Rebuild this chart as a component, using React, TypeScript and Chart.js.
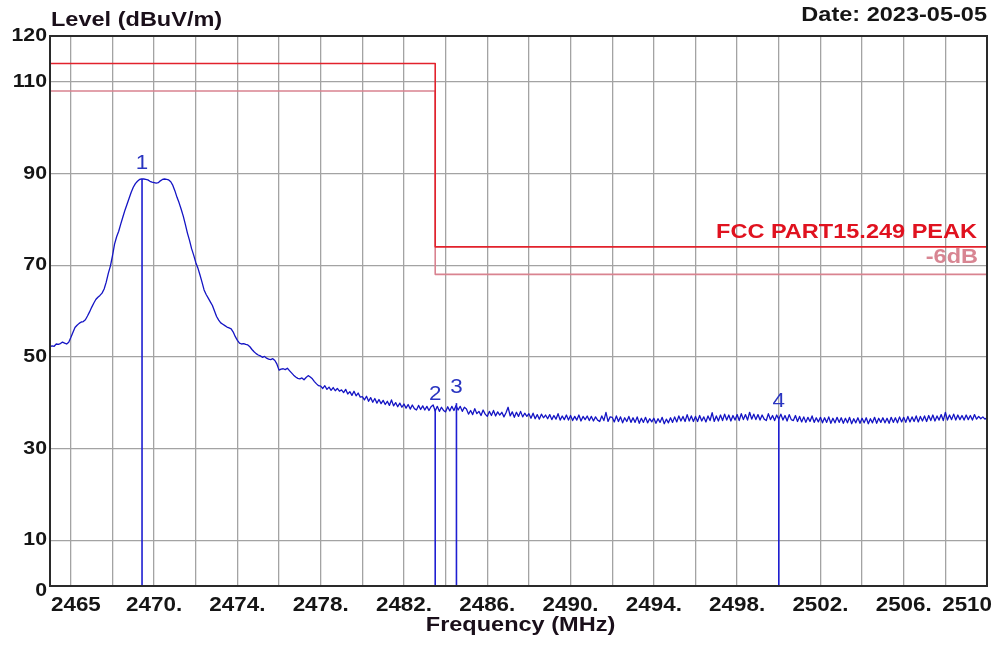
import { useEffect, useRef } from "react";
import { Chart, registerables } from "chart.js";

Chart.register(...registerables);

// ---- Sweep data (dBuV/m), 2465.0 .. 2510.0 MHz, 0.1 MHz step ----
const FREQ_START = 2465;
const FREQ_STEP = 0.1;
const LEVELS: number[] = [
  52.2, 52.4, 52.3, 52.8, 52.7, 52.9, 53.2, 53.0, 52.8, 53.2,
  54.2, 55.3, 56.4, 56.9, 57.3, 57.6, 57.7, 58.1, 58.9, 59.8,
  60.8, 61.7, 62.5, 63.0, 63.4, 63.9, 64.8, 66.3, 68.2, 69.8,
  72.0, 74.6, 76.2, 77.4, 79.0, 80.5, 82.0, 83.3, 84.6, 85.9,
  87.0, 87.8, 88.3, 88.7, 88.8, 88.8, 88.7, 88.6, 88.3, 88.1,
  88.0, 87.9, 88.0, 88.4, 88.7, 88.8, 88.7, 88.6, 88.2, 87.4,
  86.2, 84.8, 83.6, 82.2, 80.7, 78.9, 77.0, 75.4, 73.6, 72.2,
  70.6, 69.4, 67.9, 66.3, 64.6, 63.6, 62.8, 62.0, 61.2, 60.0,
  58.8, 58.0, 57.4, 57.1, 56.8, 56.5, 56.3, 56.1, 55.4, 54.4,
  53.6, 53.0, 52.8, 52.9, 52.7, 52.6, 52.2, 51.6, 51.1, 50.7,
  50.4, 50.2, 49.9, 50.1, 49.7, 49.5, 49.4, 49.6, 49.2, 48.4,
  47.1, 47.3, 47.4, 47.2, 47.5, 47.0, 46.5, 46.0, 45.6, 45.3,
  45.2, 45.4, 45.0, 45.5, 45.9, 45.6, 45.2, 44.6, 44.1, 43.7,
  43.6, 43.1, 43.7, 42.9, 43.4, 42.7, 43.3, 42.6, 43.1, 42.5,
  42.8, 42.2, 42.9, 41.9, 42.4, 41.6, 42.5, 41.5, 42.1, 41.2,
  41.3, 40.6, 41.4, 40.3, 41.1, 40.1, 40.9, 39.9, 40.7, 39.8,
  40.5, 39.6, 40.3, 39.4, 40.6, 39.3, 40.0, 39.1, 39.9, 39.0,
  39.7, 38.8, 39.6, 38.6, 39.5, 38.7, 38.4, 39.4, 38.5, 39.3,
  38.4, 39.2, 38.3, 39.1, 39.5, 38.2, 39.2, 38.1, 39.0, 38.3,
  38.0, 39.1, 38.2, 39.2, 38.3, 39.4, 38.4, 39.2, 38.1, 39.0,
  38.6, 37.5, 38.3, 37.4, 38.7, 37.6, 38.1, 37.2, 38.4, 37.5,
  37.0, 38.1, 37.2, 38.3, 37.1, 38.0, 37.3, 37.9, 36.9, 37.8,
  39.0, 37.1, 38.0, 36.8, 37.9, 37.0, 38.1, 36.9, 37.7, 37.0,
  37.6, 36.6, 37.7, 36.5, 37.4, 36.4, 37.5, 36.7, 37.3, 36.5,
  37.4, 36.3, 37.2, 36.4, 37.6, 36.2, 37.1, 36.3, 37.3, 36.2,
  37.2, 36.1, 37.0, 36.2, 37.3, 36.0, 37.0, 36.3, 37.1, 36.1,
  37.0, 36.0, 36.9, 36.2, 35.9, 37.1, 36.1, 37.9, 35.9, 36.9,
  36.8, 35.8, 37.1, 35.9, 36.9, 35.6, 36.7, 35.9, 37.0, 35.7,
  36.7, 35.7, 36.9, 35.5, 36.6, 35.7, 36.8, 35.6, 36.5, 35.8,
  36.6, 35.5, 36.5, 35.7, 36.8, 35.4, 36.4, 35.6, 36.7, 35.7,
  36.9, 35.8, 37.1, 36.0, 37.0, 35.9, 37.4, 36.0, 37.1, 35.9,
  37.0, 35.9, 37.2, 36.0, 36.9, 35.8, 37.1, 36.1, 37.8, 35.9,
  37.1, 36.0, 37.3, 36.1, 37.5, 36.2, 37.3, 36.0, 37.2, 36.2,
  37.4, 36.1, 37.6, 36.3, 37.4, 36.2, 37.9, 36.4, 37.5, 36.3,
  37.4, 36.2, 37.3, 36.4, 36.1, 37.6, 36.3, 37.2, 36.1, 37.3,
  36.4, 37.5, 36.2, 37.2, 36.0, 37.4, 36.3, 36.1, 37.2, 35.9,
  37.0, 35.8, 36.9, 35.7, 36.8, 35.9, 37.1, 35.7, 36.7, 35.8,
  36.8, 35.6, 36.7, 35.7, 36.9, 35.5, 36.6, 35.6, 36.8, 35.7,
  36.7, 35.5, 36.6, 35.6, 36.8, 35.4, 36.5, 35.6, 36.7, 35.5,
  36.6, 35.6, 36.7, 35.4, 36.5, 35.6, 36.8, 35.5, 36.6, 35.7,
  36.7, 35.6, 36.6, 35.5, 36.8, 35.7, 36.7, 35.6, 36.9, 35.8,
  36.8, 35.7, 37.0, 35.8, 36.9, 35.9, 37.1, 35.8, 37.0, 36.0,
  37.1, 35.9, 37.2, 36.1, 37.3, 36.0, 37.1, 36.2, 37.4, 36.1,
  37.9, 36.2, 37.3, 36.3, 37.5, 36.2, 37.3, 36.3, 37.2, 36.2,
  37.3, 36.3, 37.2, 36.2, 37.4, 36.4, 37.0, 36.5, 36.9, 36.4,
  36.7,
];

// ---- Limit lines ----
const LIMIT_FREQS = [2465, 2483.5, 2483.5, 2510];
const LIMIT_PEAK = [114, 114, 74, 74];
const LIMIT_MARGIN = [108, 108, 68, 68];
const LIMIT_PEAK_LABEL = "FCC PART15.249 PEAK";
const LIMIT_MARGIN_LABEL = "-6dB";

// ---- Markers ----
const MARKER_IDS = ["1", "2", "3", "4"];
const MARKER_FREQS = [2469.42, 2483.5, 2484.52, 2500.0];
const MARKER_LEVELS = [88.8, 38.4, 39.9, 36.7];

// ---- Axes ----
const X_MIN = 2465;
const X_MAX = 2510;
const Y_MIN = 0;
const Y_MAX = 120;
const X_GRID = [2466, 2468, 2470, 2472, 2474, 2476, 2478, 2480, 2482, 2484, 2486, 2488, 2490, 2492, 2494, 2496, 2498, 2500, 2502, 2504, 2506, 2508];
const Y_GRID = [10, 30, 50, 70, 90, 110];
const X_TICK_VALUES = [2465, 2470, 2474, 2478, 2482, 2486, 2490, 2494, 2498, 2502, 2506, 2510];
const X_TICK_LABELS = ["2465", "2470.", "2474.", "2478.", "2482.", "2486.", "2490.", "2494.", "2498.", "2502.", "2506.", "2510"];
const Y_TICK_VALUES = [0, 10, 30, 50, 70, 90, 110, 120];
const Y_TICK_LABELS = ["0", "10", "30", "50", "70", "90", "110", "120"];

const TITLE_Y = "Level (dBuV/m)";
const TITLE_X = "Frequency (MHz)";
const DATE_TEXT = "Date: 2023-05-05";

const FONT = '"Liberation Sans", Arial, sans-serif';
const SX = 1.12;

function drawText(
  ctx: CanvasRenderingContext2D,
  text: string,
  x: number,
  y: number,
  align: CanvasTextAlign,
  font: string,
  color: string
) {
  ctx.save();
  ctx.font = font;
  ctx.fillStyle = color;
  ctx.textBaseline = "middle";
  ctx.textAlign = align;
  ctx.translate(x, y);
  ctx.scale(SX, 1);
  ctx.fillText(text, 0, 0);
  ctx.restore();
}

const overlayPlugin = {
  id: "overlay",
  afterDraw(chart: any) {
    const ctx: CanvasRenderingContext2D = chart.ctx;
    const xs = chart.scales.x;
    const ys = chart.scales.y;
    const a = chart.chartArea;

    // frame
    ctx.save();
    ctx.strokeStyle = "#2a2a2a";
    ctx.lineWidth = 2;
    ctx.strokeRect(a.left, a.top, a.right - a.left, a.bottom - a.top);
    ctx.restore();

    const axisColor = "#151515";
    // y tick labels
    Y_TICK_VALUES.forEach((v, i) => {
      let y = ys.getPixelForValue(v);
      if (v === Y_MIN) y += 5;
      drawText(ctx, Y_TICK_LABELS[i], a.left - 3, y, "right", `bold 19px ${FONT}`, axisColor);
    });
    // x tick labels
    X_TICK_VALUES.forEach((v, i) => {
      const x = xs.getPixelForValue(v);
      let align: CanvasTextAlign = "center";
      let px = x;
      if (v === X_MIN) { align = "left"; px = x + 1; }
      if (v === X_MAX) { align = "right"; px = x + 5; }
      drawText(ctx, X_TICK_LABELS[i], px, a.bottom + 19, align, `bold 20px ${FONT}`, axisColor);
    });

    // titles
    drawText(ctx, TITLE_Y, a.left + 1, 20, "left", `bold 21px ${FONT}`, "#1a0f1a");
    drawText(ctx, DATE_TEXT, a.right, 15, "right", `bold 21px ${FONT}`, axisColor);
    drawText(ctx, TITLE_X, (a.left + a.right) / 2 + 2, a.bottom + 39, "center", `bold 21px ${FONT}`, "#1a0f1a");

    // limit labels
    const peakY = ys.getPixelForValue(LIMIT_PEAK[3]);
    const margY = ys.getPixelForValue(LIMIT_MARGIN[3]);
    drawText(ctx, LIMIT_PEAK_LABEL, a.right - 10, peakY - 15, "right", `bold 21px ${FONT}`, "#e0121f");
    drawText(ctx, LIMIT_MARGIN_LABEL, a.right - 9, margY - 17, "right", `bold 21px ${FONT}`, "#d88592");

    // marker labels
    MARKER_IDS.forEach((id, i) => {
      const x = xs.getPixelForValue(MARKER_FREQS[i]);
      const y = ys.getPixelForValue(MARKER_LEVELS[i]);
      drawText(ctx, id, x, y - 16, "center", `20px ${FONT}`, "#2a35c0");
    });
  },
};

export default function App() {
  const canvasRef = useRef<HTMLCanvasElement | null>(null);

  useEffect(() => {
    document.body.style.margin = "0";
    const canvas = canvasRef.current;
    if (!canvas) return;

    const trace = LEVELS.map((v, i) => ({ x: FREQ_START + i * FREQ_STEP, y: v }));
    const peak = LIMIT_FREQS.map((f, i) => ({ x: f, y: LIMIT_PEAK[i] }));
    const margin = LIMIT_FREQS.map((f, i) => ({ x: f, y: LIMIT_MARGIN[i] }));
    const markerSets = MARKER_FREQS.map((f, i) => ({
      label: "M" + MARKER_IDS[i],
      data: [{ x: f, y: Y_MIN }, { x: f, y: MARKER_LEVELS[i] }],
      borderColor: "#1e1ed2",
      borderWidth: 1.6,
      pointRadius: 0,
    }));

    const chart = new Chart(canvas, {
      type: "line",
      data: {
        datasets: [
          ...markerSets,
          { label: "Trace", data: trace, borderColor: "#1414c4", borderWidth: 1.3, pointRadius: 0, tension: 0 },
          { label: "Limit", data: peak, borderColor: "#e2222c", borderWidth: 1.6, pointRadius: 0 },
          { label: "Margin", data: margin, borderColor: "#d98390", borderWidth: 1.6, pointRadius: 0 },
        ],
      },
      options: {
        responsive: false,
        animation: false,
        devicePixelRatio: 1,
        layout: { padding: { left: 50, right: 21, top: 36, bottom: 64 } },
        plugins: { legend: { display: false }, tooltip: { enabled: false } },
        elements: { line: { borderJoinStyle: "round" } },
        scales: {
          x: {
            type: "linear",
            min: X_MIN,
            max: X_MAX,
            afterBuildTicks: (s: any) => { s.ticks = X_GRID.map((v) => ({ value: v })); },
            ticks: { display: false },
            grid: { color: "#a3a3a3", lineWidth: 1.3, drawTicks: false },
            border: { display: false },
          },
          y: {
            type: "linear",
            min: Y_MIN,
            max: Y_MAX,
            afterBuildTicks: (s: any) => { s.ticks = Y_GRID.map((v) => ({ value: v })); },
            ticks: { display: false },
            grid: { color: "#a3a3a3", lineWidth: 1.3, drawTicks: false },
            border: { display: false },
          },
        },
      },
      plugins: [overlayPlugin],
    } as any);

    return () => chart.destroy();
  }, []);

  return (
    <div style={{ position: "fixed", left: 0, top: 0, width: 1008, height: 650, background: "#fff" }}>
      <canvas ref={canvasRef} width={1008} height={650} style={{ width: 1008, height: 650 }} />
    </div>
  );
}
